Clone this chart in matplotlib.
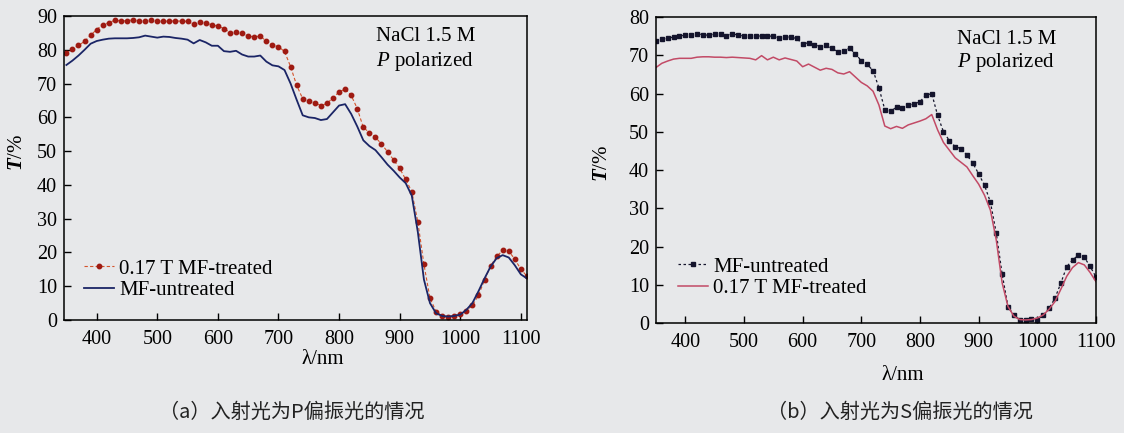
"""Transmission spectra, NaCl 1.5 M, MF-treated vs. untreated (two panels).

Writes: out.png
"""

import matplotlib

matplotlib.use("Agg")
import matplotlib.pyplot as plt

plt.rcParams["font.family"] = ["Liberation Serif", "DejaVu Serif"]
plt.rcParams["mathtext.fontset"] = "custom"
plt.rcParams["mathtext.rm"] = "Liberation Serif"
plt.rcParams["mathtext.it"] = "Liberation Serif:italic"
plt.rcParams["mathtext.bf"] = "Liberation Serif:bold"
plt.rcParams["mathtext.bfit"] = "Liberation Serif:bold:italic"

BG = "#e7e8ea"

# --- panel (a) data, 350..1110 nm every 10 nm ---
lam_a = list(range(350, 1111, 10))
a_treated = [
    79.0, 80.2, 81.3, 82.5, 84.3, 86.0, 87.4, 88.0, 88.8, 88.5,
    88.6, 88.9, 88.5, 88.6, 88.7, 88.5, 88.4, 88.5, 88.5, 88.5,
    88.4, 87.5, 88.2, 88.0, 87.4, 87.0, 86.3, 85.1, 85.2, 84.9,
    84.1, 83.8, 84.1, 82.5, 81.5, 80.9, 79.5, 75.0, 69.5, 65.5,
    64.8, 64.3, 63.5, 64.1, 65.8, 67.5, 68.4, 66.5, 62.6, 57.0,
    55.5, 54.1, 52.1, 49.8, 47.4, 44.9, 41.6, 38.0, 29.0, 16.5,
    6.5, 2.5, 1.2, 1.0, 1.3, 1.8, 2.8, 4.3, 7.3, 11.8,
    16.0, 18.8, 20.6, 20.4, 18.0, 15.0, 13.0,
]
a_untreated = [
    75.5, 76.8, 78.3, 80.0, 81.8, 82.6, 83.0, 83.3, 83.4, 83.4,
    83.4, 83.5, 83.7, 84.2, 83.9, 83.6, 83.9, 83.8, 83.5, 83.3,
    83.0, 81.9, 82.9, 82.2, 81.2, 81.2, 79.6, 79.4, 79.7, 78.6,
    78.0, 78.0, 78.3, 76.5, 75.4, 75.1, 74.0, 70.0, 65.2, 60.6,
    60.0, 59.8, 59.2, 59.5, 61.5, 63.5, 63.9, 61.0, 57.3, 53.2,
    51.5, 50.3, 48.2, 46.0, 44.2, 42.2, 40.5, 36.8, 26.0, 12.0,
    5.0, 2.0, 1.2, 1.0, 1.2, 1.6, 3.0, 5.0, 8.5, 12.3,
    15.8, 18.3, 19.2, 18.5, 16.2, 13.5, 12.3,
]

# --- panel (b) data, 350..1100 nm every 10 nm ---
lam_b = list(range(350, 1101, 10))
b_untreated = [
    73.8, 74.2, 74.4, 74.8, 75.0, 75.3, 75.3, 75.6, 75.4, 75.2,
    75.6, 75.5, 75.1, 75.6, 75.3, 75.0, 75.0, 75.1, 75.0, 75.0,
    75.0, 74.4, 74.9, 74.7, 74.4, 72.9, 73.3, 72.8, 72.2, 72.6,
    71.8, 70.9, 71.0, 71.9, 70.3, 68.6, 67.6, 66.0, 61.5, 55.8,
    55.4, 56.4, 56.1, 57.0, 57.2, 57.9, 59.5, 60.0, 54.3, 50.0,
    47.7, 46.1, 45.6, 43.9, 41.8, 39.0, 36.0, 31.6, 23.5, 12.8,
    4.3, 2.0, 0.9, 0.8, 1.0, 0.9, 2.0, 3.8, 6.5, 10.4,
    14.7, 16.5, 17.7, 17.2, 14.8, 12.0,
]
b_treated = [
    66.8, 67.9, 68.5, 69.0, 69.2, 69.2, 69.2, 69.5, 69.6, 69.6,
    69.5, 69.5, 69.4, 69.5, 69.4, 69.3, 69.2, 68.8, 69.9, 68.8,
    69.5, 68.8, 69.3, 68.9, 68.5, 67.0, 67.7, 66.9, 66.1, 66.6,
    66.3, 65.4, 65.1, 65.7, 64.3, 62.9, 62.0, 60.6, 57.0, 51.5,
    50.8, 51.4, 50.9, 51.8, 52.3, 52.8, 53.4, 54.5, 50.5, 47.2,
    45.2, 43.2, 42.0, 40.8, 38.5, 36.3, 33.4, 29.5, 21.7, 10.5,
    4.3, 1.8, 0.9, 0.8, 0.9, 1.3, 2.1, 3.6, 5.6, 8.8,
    12.2, 14.5, 15.8, 15.2, 13.2, 10.8,
]

xticks = [400, 500, 600, 700, 800, 900, 1000, 1100]
LAB = "0.17 T MF-treated"
UNT = "MF-untreated"


def style_axes(ax, ymax):
    ax.set_facecolor(BG)
    for sp in ax.spines.values():
        sp.set_linewidth(1.1)
    ax.set_xticks(xticks)
    ax.set_yticks(range(0, ymax + 1, 10))
    ax.set_ylim(0, ymax)
    ax.tick_params(direction="in", length=5, width=1.0, labelsize=14.5,
                   top=False, right=False)
    ax.tick_params(axis="x", pad=7)
    ax.tick_params(axis="y", pad=5)
    ax.set_ylabel(r"$\mathbfit{T}$/%", fontsize=15)
    ax.set_xlabel("λ/nm", fontsize=15)


fig = plt.figure(figsize=(11.24, 4.33), dpi=100, facecolor=BG)

# (a) P polarized
ax1 = fig.add_axes([0.0569, 0.261, 0.4119, 0.702])
ax1.plot(lam_a, a_treated, color="#d4542c", lw=0.8, ls=(0, (3, 2)),
         marker="o", ms=3.2, mfc="#9e1a12", mec="#9e1a12", label=LAB)
ax1.plot(lam_a, a_untreated, color="#1b2566", lw=1.3, label=UNT)
ax1.set_xlim(346, 1110)
style_axes(ax1, 90)
ax1.yaxis.set_label_coords(-0.08, 0.553)
ax1.xaxis.set_label_coords(0.559, -0.1)
ax1.text(0.782, 0.931, "NaCl 1.5 M", transform=ax1.transAxes,
         ha="center", va="center", fontsize=15)
ax1.text(0.78, 0.849, r"$\mathit{P}$ polarized", transform=ax1.transAxes,
         ha="center", va="center", fontsize=15)
ax1.legend(loc="upper left", bbox_to_anchor=(0.043, 0.2), frameon=False,
           fontsize=15, handlelength=1.45, handletextpad=0.25,
           labelspacing=0.1, borderpad=0, borderaxespad=0, numpoints=1)

# (b) S polarized
ax2 = fig.add_axes([0.5836, 0.254, 0.3915, 0.7067])
ax2.plot(lam_b, b_untreated, color="#14142c", lw=0.9, ls=(0, (2, 2)),
         marker="s", ms=3.2, label=UNT)
ax2.plot(lam_b, b_treated, color="#c24a66", lw=1.1, label=LAB)
ax2.set_xlim(350, 1100)
style_axes(ax2, 80)
ax2.yaxis.set_label_coords(-0.1, 0.523)
ax2.xaxis.set_label_coords(0.561, -0.14)
ax2.text(0.798, 0.928, "NaCl 1.5 M", transform=ax2.transAxes,
         ha="center", va="center", fontsize=15)
ax2.text(0.795, 0.85, r"$\mathit{P}$ polarized", transform=ax2.transAxes,
         ha="center", va="center", fontsize=15)
ax2.legend(loc="upper left", bbox_to_anchor=(0.05, 0.216), frameon=False,
           fontsize=15, handlelength=1.45, handletextpad=0.25,
           labelspacing=0.1, borderpad=0, borderaxespad=0, numpoints=1)

cjk = ["Noto Sans CJK SC", "DejaVu Sans"]
fig.text(292 / 1124, 1 - 412 / 433, "（a）入射光为P偏振光的情况",
         ha="center", va="center", fontsize=14.5, family=cjk, color="#222222")
fig.text(900 / 1124, 1 - 412 / 433, "（b）入射光为S偏振光的情况",
         ha="center", va="center", fontsize=14.5, family=cjk, color="#222222")

fig.savefig("out.png", dpi=100, facecolor=BG)
